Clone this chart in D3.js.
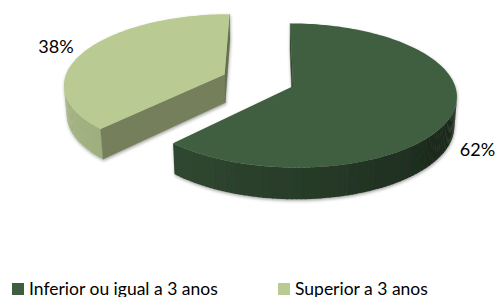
<!DOCTYPE html>
<html>
<head>
<meta charset="utf-8">
<script src="https://cdn.jsdelivr.net/npm/d3@7"></script>
<style>
  body { margin: 0; background: #fff; }
  text { font-family: Lato, "Open Sans", sans-serif; fill: #000; }
</style>
</head>
<body>
<svg id="chart"></svg>
<script>
// Chart data
var categories = ["Inferior ou igual a 3 anos", "Superior a 3 anos"];
var values = [62, 38];
var labels = ["62%", "38%"];

var width = 497, height = 297;
var colors = ["#3f5e40", "#b9cb93"];
var explode = [0, 0.46];
var shadeBase = [0.58, 0.71];   // ambient for side walls
var shadeGain = [0.2, 0.17];

// 3d view params
var cam = {f: 1120, d: 7, sin: 0.46, cos: 0.887, cx: 268.7, cy: 115, camX: -0.15};
var h = 0.2;  // pie thickness (radius = 1)
var light = [-0.958, -0.287];

function proj(X, Y, Z) {
  var yc = Y * cam.cos + Z * cam.sin;
  var zc = cam.d + Z * cam.cos - Y * cam.sin;
  return [cam.cx + cam.f * (X - cam.camX) / zc, cam.cy - cam.f * yc / zc];
}
// camera position in world coords, for face culling
var eye = [cam.camX, cam.d * cam.sin, -cam.d * cam.cos];

function facing(nx, nz, px, py, pz) {
  return nx * (eye[0] - px) + nz * (eye[2] - pz) > 0;
}

var line = d3.line();

var svg = d3.select("#chart")
    .attr("width", width)
    .attr("height", height);

var defs = svg.append("defs");
defs.append("filter")
    .attr("id", "shadow")
    .attr("x", "-10%").attr("y", "-10%")
    .attr("width", "120%").attr("height", "130%")
  .append("feDropShadow")
    .attr("dx", 0.5).attr("dy", 1.5)
    .attr("stdDeviation", 1.5)
    .attr("flood-color", "#000")
    .attr("flood-opacity", 0.35);

var pie = d3.pie().sort(null).startAngle(0).endAngle(2 * Math.PI);
var arcs = pie(values);

// draw farther slices first
var order = d3.range(arcs.length).sort(function(a, b) {
  var ma = (arcs[a].startAngle + arcs[a].endAngle) / 2,
      mb = (arcs[b].startAngle + arcs[b].endAngle) / 2;
  return (Math.cos(mb) * explode[b]) - (Math.cos(ma) * explode[a]);
});

order.forEach(function(i) {
  var a = arcs[i];
  var mid = (a.startAngle + a.endAngle) / 2;
  var ox = Math.sin(mid) * explode[i],
      oz = Math.cos(mid) * explode[i];
  var base = d3.rgb(colors[i]);

  function shade(nx, nz) {
    var k = shadeBase[i] + shadeGain[i] * (nx * light[0] + nz * light[1]);
    return d3.rgb(base.r * k, base.g * k, base.b * k).toString();
  }

  var g = svg.append("g").attr("filter", "url(#shadow)");

  var steps = Math.ceil((a.endAngle - a.startAngle) / (Math.PI / 120));
  var angles = d3.range(steps + 1).map(function(s) {
    return a.startAngle + (a.endAngle - a.startAngle) * s / steps;
  });

  // outer curved wall, back to front so seams are covered
  for (var s = 0; s < steps; s++) {
    var t0 = angles[s], t1 = angles[s + 1], tm = (t0 + t1) / 2;
    var nx = Math.sin(tm), nz = Math.cos(tm);
    if (!facing(nx, nz, ox + nx, h / 2, oz + nz)) continue;
    var c = shade(nx, nz);
    var t1b = Math.min(t1 + 0.006, a.endAngle);
    g.append("path")
        .attr("d", line([
          proj(ox + Math.sin(t0), h, oz + Math.cos(t0)),
          proj(ox + Math.sin(t1b), h, oz + Math.cos(t1b)),
          proj(ox + Math.sin(t1b), 0, oz + Math.cos(t1b)),
          proj(ox + Math.sin(t0), 0, oz + Math.cos(t0))
        ]) + "Z")
        .attr("fill", c);
  }

  // radial walls
  [[a.startAngle, -1], [a.endAngle, 1]].forEach(function(w) {
    var t = w[0];
    var nx = w[1] * Math.cos(t), nz = -w[1] * Math.sin(t);
    var px = ox + Math.sin(t) / 2, pz = oz + Math.cos(t) / 2;
    if (!facing(nx, nz, px, h / 2, pz)) return;
    var c = shade(nx, nz);
    g.append("path")
        .attr("d", line([
          proj(ox, h, oz),
          proj(ox + Math.sin(t), h, oz + Math.cos(t)),
          proj(ox + Math.sin(t), 0, oz + Math.cos(t)),
          proj(ox, 0, oz)
        ]) + "Z")
        .attr("fill", c)
        .attr("stroke", c)
        .attr("stroke-width", 0.4);
  });

  // top face
  var top = [proj(ox, h, oz)].concat(angles.map(function(t) {
    return proj(ox + Math.sin(t), h, oz + Math.cos(t));
  }));
  g.append("path")
      .attr("d", line(top) + "Z")
      .attr("fill", colors[i]);

  // data label, just outside the rim
  var lr = 1.06;
  var far = Math.cos(mid) > 0;
  var lp = proj(ox + Math.sin(mid) * lr, far ? h : 0, oz + Math.cos(mid) * lr);
  svg.append("text")
      .attr("x", lp[0] + (Math.sin(mid) > 0 ? 0 : -4))
      .attr("y", lp[1] + (far ? -3 : 4))
      .attr("dy", "0.35em")
      .attr("text-anchor", Math.sin(mid) > 0 ? "start" : "end")
      .style("font-size", "18px")
      .text(labels[i]);
});

// Legend
var legendX = [12, 278];
var legend = svg.selectAll(".legend")
    .data(categories)
  .enter().append("g")
    .attr("class", "legend")
    .attr("transform", function(d, i) { return "translate(" + legendX[i] + ",283)"; });

legend.append("rect")
    .attr("width", 12)
    .attr("height", 12)
    .attr("fill", function(d, i) { return colors[i]; });

legend.append("text")
    .attr("x", 17)
    .attr("y", 11.5)
    .style("font-size", "17.5px")
    .text(function(d) { return d; });
</script>
</body>
</html>
